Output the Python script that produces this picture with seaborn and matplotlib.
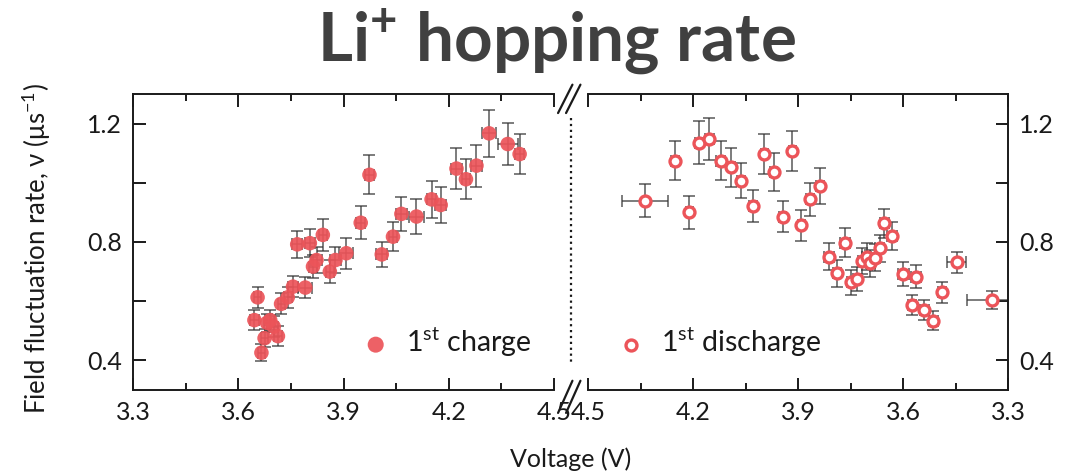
import numpy as np
import pandas as pd
import seaborn as sns
import matplotlib.pyplot as plt
from matplotlib.lines import Line2D
from matplotlib.ticker import MultipleLocator, FixedLocator

# 1st charge (left panel)
charge_v = [3.655, 3.646, 3.666, 3.675, 3.691, 3.682, 3.713, 3.701, 3.722, 3.741,
            3.756, 3.791, 3.768, 3.804, 3.841, 3.823, 3.813, 3.861, 3.877, 3.908,
            3.949, 3.974, 4.009, 4.041, 4.065, 4.108, 4.151, 4.177, 4.222, 4.249,
            4.279, 4.315, 4.368, 4.402]
charge_rate = [0.613, 0.536, 0.426, 0.475, 0.536, 0.527, 0.482, 0.514, 0.591, 0.613,
               0.649, 0.646, 0.792, 0.796, 0.824, 0.739, 0.717, 0.700, 0.739, 0.762,
               0.865, 1.027, 0.758, 0.818, 0.895, 0.886, 0.944, 0.925, 1.048, 1.012,
               1.058, 1.167, 1.131, 1.097]
charge_rate_err = [0.035, 0.035, 0.028, 0.03, 0.035, 0.03, 0.035, 0.035, 0.035, 0.035,
                   0.035, 0.035, 0.046, 0.048, 0.055, 0.045, 0.04, 0.04, 0.045, 0.052,
                   0.055, 0.066, 0.042, 0.05, 0.058, 0.058, 0.063, 0.06, 0.068, 0.068,
                   0.071, 0.079, 0.071, 0.068]
charge_v_err = [0.01, 0.012, 0.01, 0.01, 0.015, 0.01, 0.012, 0.012, 0.01, 0.012,
                0.015, 0.02, 0.015, 0.015, 0.012, 0.015, 0.012, 0.012, 0.015, 0.02,
                0.012, 0.012, 0.015, 0.012, 0.015, 0.02, 0.012, 0.015, 0.015, 0.012,
                0.015, 0.02, 0.028, 0.012]

# 1st discharge (right panel)
discharge_v = [4.337, 4.251, 4.211, 4.183, 4.153, 4.121, 4.091, 4.063, 4.028, 3.996,
               3.969, 3.944, 3.917, 3.891, 3.865, 3.837, 3.811, 3.788, 3.766, 3.749,
               3.732, 3.718, 3.704, 3.693, 3.680, 3.667, 3.653, 3.631, 3.599, 3.563,
               3.575, 3.539, 3.513, 3.488, 3.447, 3.347]
discharge_rate = [0.940, 1.075, 0.900, 1.136, 1.148, 1.075, 1.052, 1.007, 0.922, 1.096,
                  1.035, 0.886, 1.107, 0.857, 0.944, 0.989, 0.750, 0.694, 0.798, 0.664,
                  0.675, 0.736, 0.750, 0.728, 0.747, 0.779, 0.863, 0.821, 0.692, 0.683,
                  0.587, 0.570, 0.534, 0.630, 0.731, 0.604]
discharge_rate_err = [0.056, 0.066, 0.055, 0.073, 0.071, 0.066, 0.065, 0.06, 0.053, 0.068,
                      0.064, 0.053, 0.068, 0.052, 0.055, 0.06, 0.046, 0.045, 0.048, 0.042,
                      0.042, 0.045, 0.045, 0.045, 0.045, 0.045, 0.049, 0.047, 0.04, 0.038,
                      0.035, 0.035, 0.033, 0.035, 0.035, 0.03]
discharge_v_err = [0.065, 0.012, 0.01, 0.012, 0.012, 0.012, 0.01, 0.012, 0.012, 0.01,
                   0.01, 0.01, 0.01, 0.01, 0.012, 0.012, 0.015, 0.012, 0.015, 0.012,
                   0.012, 0.012, 0.012, 0.012, 0.015, 0.012, 0.012, 0.015, 0.015, 0.015,
                   0.012, 0.012, 0.012, 0.012, 0.028, 0.07]

charge = pd.DataFrame({"V": charge_v, "rate": charge_rate})
discharge = pd.DataFrame({"V": discharge_v, "rate": discharge_rate})

sns.set_theme(style="ticks")
plt.rcParams["font.family"] = ["Lato", "Open Sans", "DejaVu Sans"]
plt.rcParams["mathtext.fontset"] = "custom"
plt.rcParams["mathtext.rm"] = "Lato"
plt.rcParams["mathtext.bf"] = "Lato:bold"
plt.rcParams["axes.unicode_minus"] = False

red = "#ec5459"
err_col = "#333333"
txt = "#1a1a1a"

fig = plt.figure(figsize=(10.66, 4.73), dpi=100)
ax1 = fig.add_axes([0.1248, 0.1755, 0.3949, 0.6258])
ax2 = fig.add_axes([0.5516, 0.1755, 0.3940, 0.6258])

ax1.errorbar(charge_v, charge_rate, yerr=charge_rate_err, xerr=charge_v_err,
             fmt="none", ecolor=err_col, elinewidth=1.2, capsize=4, capthick=1.2,
             alpha=0.75, zorder=2)
sns.scatterplot(data=charge, x="V", y="rate", ax=ax1, color=red, s=110,
                edgecolor="none", alpha=0.92, zorder=3, label="1$^{\\mathrm{st}}$ charge")

ax2.errorbar(discharge_v, discharge_rate, yerr=discharge_rate_err, xerr=discharge_v_err,
             fmt="none", ecolor=err_col, elinewidth=1.2, capsize=4, capthick=1.2,
             alpha=0.75, zorder=2)
sns.scatterplot(data=discharge, x="V", y="rate", ax=ax2, facecolor="white",
                edgecolor=red, linewidth=2.4, s=62, zorder=3,
                label="1$^{\\mathrm{st}}$ discharge")

for ax in (ax1, ax2):
    ax.set_ylim(0.3, 1.3)
    ax.yaxis.set_major_locator(FixedLocator([0.4, 0.8, 1.2]))
    ax.yaxis.set_minor_locator(FixedLocator([0.6, 1.0]))
    ax.xaxis.set_major_locator(MultipleLocator(0.3))
    ax.xaxis.set_minor_locator(MultipleLocator(0.15))
    ax.set_xlabel("")
    ax.set_ylabel("")
    ax.tick_params(which="both", direction="in", top=True, width=1.4,
                   labelsize=18, colors=txt, pad=8)
    ax.tick_params(which="major", length=9)
    ax.tick_params(axis="x", which="minor", length=5)
    ax.tick_params(axis="y", which="minor", length=9)
    for s in ax.spines.values():
        s.set_linewidth(1.4)
        s.set_color(txt)

ax1.set_xlim(3.3, 4.5)
ax1.spines["right"].set_visible(False)
ax1.tick_params(axis="y", right=False)
ax1.set_xticks([3.3, 3.6, 3.9, 4.2, 4.5], ["3.3", "3.6", "3.9", "4.2", "4.5"])

ax2.set_xlim(4.5, 3.3)
ax2.spines["left"].set_visible(False)
ax2.yaxis.tick_right()
ax2.tick_params(axis="y", which="both", left=False, right=True)
ax2.set_xticks([4.5, 4.2, 3.9, 3.6, 3.3], ["4.5", "4.2", "3.9", "3.6", "3.3"])

ax1.legend(loc="center left", bbox_to_anchor=(0.475, 0.162), frameon=False,
           fontsize=20.5, handletextpad=0.05, borderpad=0, markerscale=1.1)
ax2.legend(loc="center left", bbox_to_anchor=(0.0, 0.162), frameon=False,
           fontsize=20.5, handletextpad=0.05, borderpad=0, markerscale=1.0)
for ax in (ax1, ax2):
    for t in ax.get_legend().get_texts():
        t.set_color(txt)

# axis break: dotted line and slanted marks
fig.add_artist(Line2D([0.5356, 0.5356], [0.7505, 0.2283], transform=fig.transFigure,
                      color=txt, linestyle=":", linewidth=1.6))
for dx in (0.0, 0.0075):
    for y0, y1 in ((0.761, 0.821), (0.127, 0.195)):
        fig.add_artist(Line2D([0.5235 + dx, 0.537 + dx], [y0, y1],
                              transform=fig.transFigure, color=txt, linewidth=1.6))

fig.text(0.522, 0.87, "Li$^{\\mathbf{+}}$ hopping rate", ha="center", va="baseline",
         fontsize=48.5, fontweight="bold", color="#404040")
fig.text(0.5356, 0.03, "Voltage (V)", ha="center", va="center", fontsize=18, color=txt)
fig.text(0.034, 0.475, "Field fluctuation rate, ν (μs$^{-1}$)", ha="center", va="center",
         rotation=90, fontsize=18.5, color=txt)

fig.savefig("out.png", dpi=100)
